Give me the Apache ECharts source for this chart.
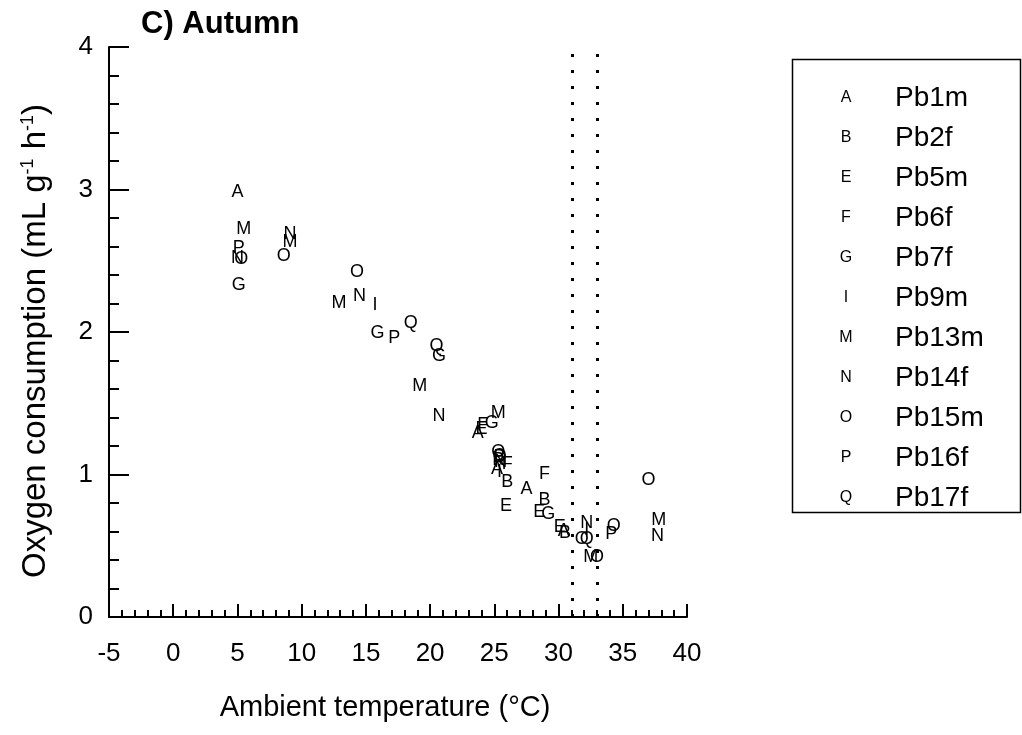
<!DOCTYPE html>
<html>
<head>
<meta charset="utf-8">
<script src="https://cdn.jsdelivr.net/npm/echarts@6/dist/echarts.min.js"></script>
<style>html,body{margin:0;padding:0;background:#fff}#c{width:1022px;height:735px}</style>
</head>
<body>
<div id="c"></div>
<script>
// Individuals: marker letter + name
const letters = ['A','B','E','F','G','I','M','N','O','P','Q'];
const names = ['Pb1m','Pb2f','Pb5m','Pb6f','Pb7f','Pb9m','Pb13m','Pb14f','Pb15m','Pb16f','Pb17f'];
// [ambient temperature (°C), oxygen consumption (mL g-1 h-1)]
const Pb1m  = [[5.0,2.98],[23.7,1.29],[25.2,1.04],[27.5,0.90],[30.4,0.60]];
const Pb2f  = [[25.4,1.12],[26.0,0.95],[28.9,0.82],[30.5,0.59]];
const Pb5m  = [[24.0,1.32],[25.9,0.78],[28.5,0.74],[30.1,0.63]];
const Pb6f  = [[24.1,1.35],[26.0,1.07],[28.9,1.00]];
const Pb7f  = [[5.1,2.33],[15.9,1.99],[20.7,1.83],[24.8,1.36],[29.2,0.72]];
const Pb9m  = [[15.7,2.19],[25.4,1.02],[32.2,0.61]];
const Pb13m = [[5.5,2.72],[9.1,2.63],[12.9,2.20],[19.2,1.62],[25.3,1.43],[32.5,0.42],[37.8,0.68]];
const Pb14f = [[5.0,2.52],[9.1,2.69],[14.5,2.25],[20.7,1.41],[25.5,1.09],[32.2,0.66],[37.7,0.57]];
const Pb15m = [[5.3,2.51],[8.6,2.53],[14.3,2.42],[25.3,1.16],[31.8,0.55],[33.0,0.42],[34.3,0.64],[37.0,0.96]];
const Pb16f = [[5.1,2.59],[17.2,1.96],[25.3,1.10],[34.1,0.58]];
const Pb17f = [[18.5,2.06],[20.5,1.90],[25.4,1.13],[32.2,0.55]];
const seriesData = [Pb1m,Pb2f,Pb5m,Pb6f,Pb7f,Pb9m,Pb13m,Pb14f,Pb15m,Pb16f,Pb17f];
// thermoneutral zone limits (vertical dotted lines)
const tnzLimits = [31.1, 33.0];

const FONT = '"Liberation Sans", Arial, Helvetica, sans-serif';
const chart = echarts.init(document.getElementById('c'));

const series = names.map((n, i) => ({
  name: n,
  type: 'scatter',
  data: seriesData[i],
  symbol: 'circle',
  symbolSize: 0.01,
  itemStyle: { color: '#000' },
  label: {
    show: true, position: 'inside', formatter: letters[i],
    color: '#000', fontSize: 18, fontFamily: FONT,
    textBorderWidth: 0, opacity: 1
  },
  emphasis: { disabled: true },
  z: 3
}));
series.push({
  type: 'scatter', data: [], silent: true,
  markLine: {
    silent: true, symbol: 'none', label: { show: false },
    lineStyle: { color: '#000', type: [3, 13], width: 3, cap: 'butt' },
    data: tnzLimits.map(v => ({ xAxis: v }))
  }
});

const legendMap = {};
names.forEach((n, i) => legendMap[n] = letters[i]);

chart.setOption({
  animation: false,
  backgroundColor: '#fff',
  title: {
    text: 'C) Autumn', left: 136, top: 4,
    textStyle: { fontFamily: FONT, fontWeight: 'bold', fontSize: 31, color: '#000' }
  },
  grid: { left: 109, right: 335, top: 47, bottom: 118 },
  xAxis: {
    type: 'value', min: -5, max: 40, interval: 5,
    name: 'Ambient temperature (°C)', nameLocation: 'middle', nameGap: 76,
    nameTextStyle: { fontFamily: FONT, fontSize: 29, color: '#000', padding: [0, 26, 0, 0] },
    axisLine: { show: true, onZero: false, lineStyle: { color: '#000', width: 2 } },
    axisTick: { show: true, inside: true, length: 13, lineStyle: { color: '#000', width: 2 } },
    minorTick: { show: true, splitNumber: 5, length: 7, lineStyle: { color: '#000', width: 2 } },
    axisLabel: { fontFamily: FONT, fontSize: 26, color: '#000', margin: 24 },
    splitLine: { show: false }
  },
  yAxis: {
    type: 'value', min: 0, max: 4, interval: 1,
    name: '{n|Oxygen consumption (mL g}{s|-1}{n| h}{s|-1}{n|)}',
    nameLocation: 'middle', nameGap: 56, nameRotate: 90,
    nameTextStyle: {
      padding: [0, 18, 0, 0],
      rich: {
        n: { fontFamily: FONT, fontSize: 33, color: '#000' },
        s: { fontFamily: FONT, fontSize: 18, color: '#000', padding: [0, 0, 16, 0] }
      }
    },
    axisLine: { show: true, onZero: false, lineStyle: { color: '#000', width: 2 } },
    axisTick: { show: true, inside: true, length: 20, lineStyle: { color: '#000', width: 2 } },
    minorTick: { show: true, splitNumber: 5, length: 10, lineStyle: { color: '#000', width: 2 } },
    axisLabel: { fontFamily: FONT, fontSize: 26, color: '#000', margin: 16 },
    splitLine: { show: false }
  },
  legend: {
    orient: 'vertical', left: 823, top: 79,
    data: names, selectedMode: false,
    itemWidth: 1, itemHeight: 1, itemGap: 12,
    itemStyle: { opacity: 0 },
    formatter: n => '{l|' + legendMap[n] + '}{n|' + n + '}',
    textStyle: {
      rich: {
        l: { fontFamily: FONT, fontSize: 16, color: '#000', width: 24, align: 'center', lineHeight: 30 },
        n: { fontFamily: FONT, fontSize: 28, color: '#000', padding: [0, 0, 0, 37], lineHeight: 30 }
      }
    }
  },
  graphic: [{
    type: 'rect', left: 790, top: 57, silent: true,
    shape: { width: 228, height: 453 },
    style: { fill: 'none', stroke: '#000', lineWidth: 1.5 }
  }],
  series: series
});
</script>
</body>
</html>
